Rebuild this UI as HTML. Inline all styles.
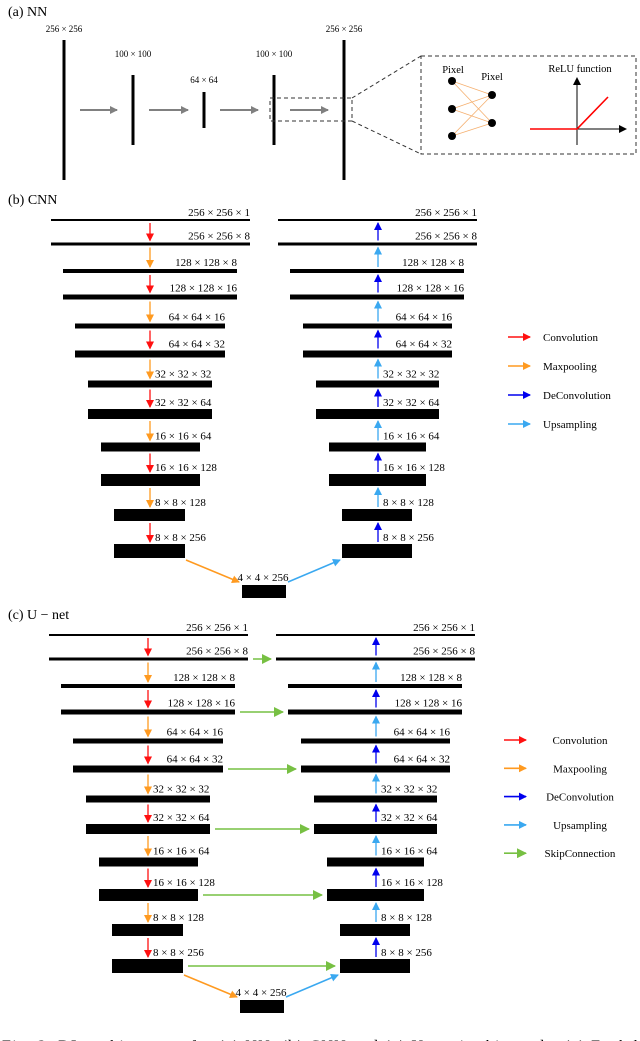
<!DOCTYPE html>
<html><head><meta charset="utf-8"><style>
html,body{margin:0;padding:0;background:#fff}
svg{display:block;font-family:"Liberation Serif",serif}
</style></head><body>
<svg id="fig" width="640" height="1041" viewBox="0 0 640 1041" xmlns="http://www.w3.org/2000/svg">
<defs>
<marker id="mg" markerWidth="8" markerHeight="8" refX="7" refY="4" orient="auto" markerUnits="userSpaceOnUse"><path d="M0,0 L8,4 L0,8 z" fill="#808080"/></marker>
<marker id="mr" markerWidth="8" markerHeight="8" refX="7" refY="4" orient="auto" markerUnits="userSpaceOnUse"><path d="M0,0 L8,4 L0,8 z" fill="#ff1010"/></marker>
<marker id="mo" markerWidth="8" markerHeight="8" refX="7" refY="4" orient="auto" markerUnits="userSpaceOnUse"><path d="M0,0 L8,4 L0,8 z" fill="#ff9a20"/></marker>
<marker id="mb" markerWidth="8" markerHeight="8" refX="7" refY="4" orient="auto" markerUnits="userSpaceOnUse"><path d="M0,0 L8,4 L0,8 z" fill="#0000ee"/></marker>
<marker id="ml" markerWidth="8" markerHeight="8" refX="7" refY="4" orient="auto" markerUnits="userSpaceOnUse"><path d="M0,0 L8,4 L0,8 z" fill="#3aa8f0"/></marker>
<marker id="mgr" markerWidth="10" markerHeight="10" refX="9" refY="5" orient="auto" markerUnits="userSpaceOnUse"><path d="M0,0 L10,5 L0,10 z" fill="#77c043"/></marker>
<marker id="mk" markerWidth="8" markerHeight="8" refX="7" refY="4" orient="auto" markerUnits="userSpaceOnUse"><path d="M0,0 L8,4 L0,8 z" fill="#000"/></marker>
</defs>
<g id="root"></g>
</svg>
<script>
const nnLabels=["256 × 256","100 × 100","64 × 64","100 × 100","256 × 256"];
const nnX=[64,133,204,274,344];
const nnHalf=[70,35,18,35,70];
const layerLabels=["256 × 256 × 1","256 × 256 × 8","128 × 128 × 8","128 × 128 × 16","64 × 64 × 16","64 × 64 × 32","32 × 32 × 32","32 × 32 × 64","16 × 16 × 64","16 × 16 × 128","8 × 8 × 128","8 × 8 × 256"];
const layerOps=["conv","conv","pool","conv","pool","conv","pool","conv","pool","conv","pool","conv"];
const legendCNN=["Convolution","Maxpooling","DeConvolution","Upsampling"];
const legendUNet=["Convolution","Maxpooling","DeConvolution","Upsampling","SkipConnection"];
const yL=[220,244,271,297,326,354,384,414,447,480,515,551];
const th=[2,3,4,5,5,7,7,10,9,12,12,14];
const leftX=[[51,250],[51,250],[63,237],[63,237],[75,225],[75,225],[88,212],[88,212],[101,200],[101,200],[114,185],[114,185]];
const rightX=[[278,477],[278,477],[290,464],[290,464],[303,452],[303,452],[316,439],[316,439],[329,426],[329,426],[342,412],[342,412]];
const NS="http://www.w3.org/2000/svg";
const root=document.getElementById('root');
function mk(tag,attrs,parent){const e=document.createElementNS(NS,tag);for(const k in attrs)e.setAttribute(k,attrs[k]);(parent||root).appendChild(e);return e;}
function txt(x,y,s,size,anchor,name){const t=mk('text',{x:x,y:y,'font-size':size,'text-anchor':anchor||'start',fill:'#000'});t.textContent=s;return t;}
function line(x1,y1,x2,y2,col,w,marker,name){const l=mk('line',{x1:x1,y1:y1,x2:x2,y2:y2,stroke:col,'stroke-width':w});if(marker)l.setAttribute('marker-end','url(#'+marker+')');return l;}
txt(8,16,"(a) NN",14,'start','panel-a-title');
const nnLabY=[32,57,83,57,32];
nnX.forEach((x,i)=>{
  line(x,110-nnHalf[i],x,110+nnHalf[i],'#000',3,null,'nn-layer');
  txt(x,nnLabY[i],nnLabels[i],9,'middle','nn-layer-label');
});
for(let i=0;i<4;i++){line(nnX[i]+16,110,nnX[i+1]-16,110,'#808080',2,'mg','nn-arrow');}
let r=mk('rect',{x:270,y:98,width:82,height:23,fill:'none',stroke:'#333','stroke-width':1,'stroke-dasharray':'4,3'});

r=mk('rect',{x:421,y:56,width:215,height:98,fill:'none',stroke:'#333','stroke-width':1,'stroke-dasharray':'4,3'});

let l=line(352,98,421,56,'#333',1,null,'zoom-line-top');l.setAttribute('stroke-dasharray','4,3');
l=line(352,121,421,154,'#333',1,null,'zoom-line-bottom');l.setAttribute('stroke-dasharray','4,3');
const inN=[81,109,136],outN=[95,123];
inN.forEach(a=>outN.forEach(b=>line(452,a,492,b,'#f5b070',0.8,null,'connection')));
inN.forEach(a=>{const c=mk('circle',{cx:452,cy:a,r:4,fill:'#000'});});
outN.forEach(a=>{const c=mk('circle',{cx:492,cy:a,r:4,fill:'#000'});});
txt(453,73,"Pixel",10.5,'middle','pixel-label-in');
txt(492,80,"Pixel",10.5,'middle','pixel-label-out');
txt(580,72,"ReLU function",10.5,'middle','relu-title');
line(577,145,577,78,'#000',1,'mk','relu-y-axis');
line(530,129,626,129,'#000',1,'mk','relu-x-axis');
l=mk('polyline',{points:'530,129 577,129 608,97',fill:'none',stroke:'#ff0000','stroke-width':1.6});


const colors={conv:['#ff1010','mr'],pool:['#ff9a20','mo'],deconv:['#0000ee','mb'],up:['#3aa8f0','ml'],skip:['#77c043','mgr']};
const LS=11;
function panel(dy,dx,skip,title,legend,legX,legY,legStep,legTextX,legAnchor){
  txt(8,dy+204,title,14,'start','panel-title');
  for(let i=0;i<12;i++){
    const y=yL[i]+dy, t=th[i];
    const [a,b]=leftX[i];const [c,d]=rightX[i];
    let rr=mk('rect',{x:a+dx,y:y-t/2,width:b-a,height:t,fill:'#000'});
    
    rr=mk('rect',{x:c+dx,y:y-t/2,width:d-c,height:t,fill:'#000'});
    
    const ly=y-t/2-3;
    if(i<6){txt(b+dx,ly,layerLabels[i],LS,'end','encoder-label');txt(d+dx,ly,layerLabels[i],LS,'end','decoder-label');}
    else{txt(155+dx,ly,layerLabels[i],LS,'start','encoder-label');txt(383+dx,ly,layerLabels[i],LS,'start','decoder-label');}
    if(i>0){
      const top=yL[i-1]+dy+th[i-1]/2+2, bot=y-t/2-2;
      const op=layerOps[i];
      const lc=colors[op];
      line(150+dx,top,150+dx,bot,lc[0],1.3,lc[1],op+'-arrow');
      const rc=op==='conv'?colors.deconv:colors.up;
      line(378+dx,bot,378+dx,top,rc[0],1.3,rc[1],(op==='conv'?'deconv':'up')+'-arrow');
      if(skip && op==='conv'){line(b+dx+5,y,c+dx-5,y,colors.skip[0],1.6,colors.skip[1],'skip-arrow');}
    }
  }
  let br=mk('rect',{x:242+dx,y:585+dy,width:44,height:13,fill:'#000'});
  
  txt(263+dx,581+dy,"4 × 4 × 256",LS,'middle','bottleneck-label');
  line(186+dx,560+dy,239+dx,582+dy,colors.pool[0],1.5,colors.pool[1],'pool-arrow-bottom');
  line(288+dx,582+dy,340+dx,560+dy,colors.up[0],1.5,colors.up[1],'up-arrow-bottom');
  const keys=['conv','pool','deconv','up','skip'];
  legend.forEach((s,i)=>{const y=legY+i*legStep;const k=colors[keys[i]];
    line(legX,y,legX+22,y,k[0],1.6,k[1],'legend-arrow-'+keys[i]);
    txt(legTextX,y+4,s,11,legAnchor,'legend-entry-'+keys[i]);});
}
panel(0,0,false,"(b) CNN",legendCNN,508,337,29,543,'start');
panel(415,-2,true,"(c) U − net",legendUNet,504,740,28.3,580,'middle');
const cap=txt(2,1051,"Fig. 3: DL architectures for (a) NN, (b) CNN and (c) U-net in this study. (a) Each l",16,'start','figure-caption');
cap.setAttribute('textLength','636');
</script>
</body></html>
